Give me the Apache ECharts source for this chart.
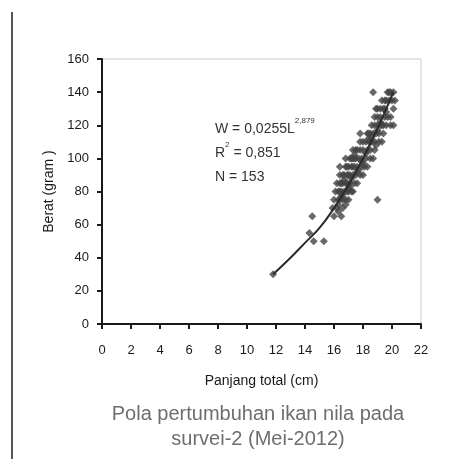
<!DOCTYPE html>
<html>
<head>
<meta charset="utf-8">
<script src="https://cdn.jsdelivr.net/npm/echarts@6/dist/echarts.min.js"></script>
<style>
  html, body { margin: 0; padding: 0; background: #fff; }
  #chart { width: 451px; height: 459px; }
</style>
</head>
<body>
<div id="chart"></div>
<script>
// panjang total (cm) dan berat (gram)
var panjang = [
    16.0, 16.5, 16.3,
    15.9, 16.2, 16.6,
    16.0, 16.3, 16.6, 17.0, 16.8, 16.4,
    16.1, 16.3, 16.5, 16.7, 17.0, 17.3, 16.9, 16.4, 17.2,
    16.2, 16.4, 16.6, 16.8, 17.1, 17.4, 16.5, 16.9, 17.6,
    16.4, 16.7, 16.9, 17.1, 17.3, 17.5, 17.8, 17.0, 16.6, 18.0,
    16.4, 16.8, 17.0, 17.2, 17.4, 17.6, 17.9, 18.1, 17.3, 16.9, 18.3,
    16.8, 17.1, 17.3, 17.5, 17.7, 17.9, 18.2, 17.4, 17.2, 18.5, 18.7,
    17.3, 17.6, 17.8, 18.0, 18.3, 18.5, 17.5, 18.8,
    17.8, 18.0, 18.2, 18.4, 18.6, 18.8, 19.1, 18.5, 19.3,
    17.8, 18.3, 18.5, 18.7, 18.9, 19.1, 18.4, 19.4,
    18.6, 18.8, 19.0, 19.2, 19.4, 19.6, 19.9, 19.3, 20.1,
    18.8, 19.0, 19.2, 19.5, 19.7, 19.9,
    18.9, 19.2, 19.5, 20.1, 19.4, 19.0,
    19.3, 19.6, 19.8, 20.2, 20.0, 19.5,
    18.7, 19.7, 19.9, 20.1, 19.8,
    16.6, 17.2, 17.6, 18.0, 16.8, 17.1, 18.6, 19.0, 17.4, 16.7,
    17.7, 18.2, 16.5, 17.0, 18.9, 19.6, 17.9, 16.3, 18.4, 19.2,
    14.5, 14.3, 14.6, 15.3, 19.0, 11.8
];
var berat = [
    65, 65, 68,
    70, 70, 70,
    75, 75, 75, 75, 75, 75,
    80, 80, 80, 80, 80, 80, 80, 80, 80,
    85, 85, 85, 85, 85, 85, 85, 85, 85,
    90, 90, 90, 90, 90, 90, 90, 90, 90, 90,
    95, 95, 95, 95, 95, 95, 95, 95, 95, 95, 95,
    100, 100, 100, 100, 100, 100, 100, 100, 100, 100, 100,
    105, 105, 105, 105, 105, 105, 105, 105,
    110, 110, 110, 110, 110, 110, 110, 110, 110,
    115, 115, 115, 115, 115, 115, 115, 115,
    120, 120, 120, 120, 120, 120, 120, 120, 120,
    125, 125, 125, 125, 125, 125,
    130, 130, 130, 130, 130, 130,
    135, 135, 135, 135, 135, 135,
    140, 140, 140, 140, 140,
    78, 88, 92, 97, 72, 83, 113, 117, 102, 87,
    93, 103, 77, 82, 108, 128, 98, 72, 112, 122,
    65, 55, 50, 50, 75, 30
];
// garis tren (kurva pangkat)
var trendPanjang = [11.8, 13, 14, 15, 16, 17, 18, 19, 20, 20.1];
var trendBerat = [30, 40, 49, 58, 70, 84, 100, 118, 138, 140];

var xTicks = [0, 22, 2];
var yTicks = [0, 160, 20];

var judul = 'Pola pertumbuhan ikan nila pada\nsurvei-2 (Mei-2012)';
var persamaan = ['W = 0,0255L', '2,879'];
var r2 = ['R', '2', ' = 0,851'];
var jumlah = 'N = 153';

var my_chart = echarts.init(document.getElementById('chart'));

var titik = [];
for (var i = 0; i < panjang.length; i++) {
    titik.push([panjang[i], berat[i]]);
}
var tren = [];
for (var j = 0; j < trendPanjang.length; j++) {
    tren.push([trendPanjang[j], trendBerat[j]]);
}

var font = 'Arial, sans-serif';

var option = {
    animation: false,
    backgroundColor: '#fff',
    grid: {
        left: 102,
        right: 30,
        top: 59,
        bottom: 135,
        show: true,
        borderColor: '#ccc',
        borderWidth: 1
    },
    xAxis: {
        type: 'value',
        min: xTicks[0],
        max: xTicks[1],
        interval: xTicks[2],
        name: 'Panjang total (cm)',
        nameLocation: 'middle',
        nameGap: 50,
        nameTextStyle: { color: '#1a1a1a', fontSize: 14, fontFamily: font },
        axisLine: { show: true, onZero: false, lineStyle: { color: '#1a1a1a', width: 2 } },
        axisTick: { show: true, length: 5, lineStyle: { color: '#1a1a1a', width: 2 } },
        axisLabel: { color: '#1a1a1a', fontSize: 13, fontFamily: font, margin: 20 },
        splitLine: { show: false }
    },
    yAxis: {
        type: 'value',
        min: yTicks[0],
        max: yTicks[1],
        interval: yTicks[2],
        name: 'Berat (gram )',
        nameLocation: 'middle',
        nameGap: 37,
        nameTextStyle: { color: '#1a1a1a', fontSize: 14, fontFamily: font },
        axisLine: { show: true, onZero: false, lineStyle: { color: '#1a1a1a', width: 2 } },
        axisTick: { show: true, length: 5, lineStyle: { color: '#1a1a1a', width: 2 } },
        axisLabel: { color: '#1a1a1a', fontSize: 13, fontFamily: font, margin: 13 },
        splitLine: { show: false }
    },
    series: [
        {
            type: 'scatter',
            data: titik,
            symbol: 'diamond',
            symbolSize: 8,
            itemStyle: { color: '#444' },
            z: 2
        },
        {
            type: 'line',
            data: tren,
            smooth: true,
            showSymbol: false,
            lineStyle: { color: '#2a2a2a', width: 2 },
            z: 3
        }
    ],
    graphic: [
        {
            type: 'line',
            shape: { x1: 12, y1: 12, x2: 12, y2: 459 },
            style: { stroke: '#555', lineWidth: 2 }
        },
        {
            // judul di bawah grafik
            type: 'text',
            x: 258,
            y: 402,
            style: {
                text: judul,
                fill: '#6e6e6e',
                fontSize: 20,
                fontFamily: font,
                lineHeight: 25,
                align: 'center',
                verticalAlign: 'top'
            }
        },
        {
            type: 'text',
            left: 215,
            top: 117,
            style: {
                text: '{a|' + persamaan[0] + '}{s|' + persamaan[1] + '}\n{a|' + r2[0] + '}{s|' + r2[1] + '}{a|' + r2[2] + '}\n{a|' + jumlah + '}',
                rich: {
                    a: { fontSize: 14, fontFamily: font, fill: '#333', lineHeight: 24 },
                    s: { fontSize: 8, fontFamily: font, fill: '#333', verticalAlign: 'top', lineHeight: 24, padding: [0, 0, 10, 0] }
                }
            }
        }
    ]
};

my_chart.setOption(option, true);
</script>
</body>
</html>
